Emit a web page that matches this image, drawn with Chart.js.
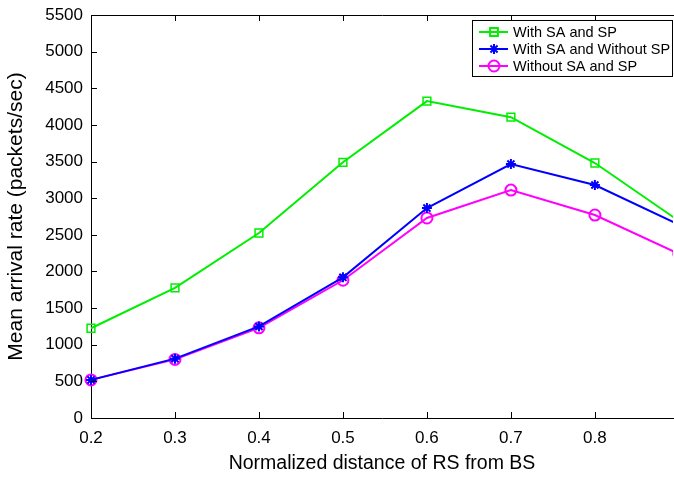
<!DOCTYPE html>
<html>
<head>
<meta charset="utf-8">
<script src="https://cdn.jsdelivr.net/npm/chart.js@4/dist/chart.umd.min.js"></script>
<style>
  html, body { margin: 0; padding: 0; background: #fff; }
  #wrap { width: 674px; height: 479px; }
</style>
</head>
<body>
<div id="wrap"><canvas id="arrivalChart" width="674" height="479"></canvas></div>
<script>
// Data
var distances = [0.2, 0.3, 0.4, 0.5, 0.6, 0.7, 0.8, 0.9];
var withSaSp = [1225, 1775, 2525, 3490, 4325, 4105, 3480, 2690];
var withSaNoSp = [520, 810, 1250, 1920, 2865, 3465, 3180, 2640];
var withoutSaSp = [520, 800, 1230, 1880, 2730, 3110, 2770, 2240];
var seriesNames = ['With SA and SP', 'With SA and Without SP', 'Without SA and SP'];
var xTicks = [0.2, 0.3, 0.4, 0.5, 0.6, 0.7, 0.8];

function toPoints(ys) {
    return distances.map(function (x, i) { return { x: x, y: ys[i] }; });
}

var fontFamily = '"Liberation Sans", Arial, sans-serif';

// Draws MATLAB style inward ticks, the top border and the legend box
var matlabFrame = {
    id: 'matlabFrame',
    afterDraw: function (chart) {
        var ctx = chart.ctx;
        var area = chart.chartArea;
        var xs = chart.scales.x;
        var ys = chart.scales.y;
        ctx.save();
        ctx.strokeStyle = '#000';
        ctx.lineWidth = 1;
        ctx.beginPath();
        ctx.moveTo(area.left, area.top + 0.5);
        ctx.lineTo(674, area.top + 0.5);
        xTicks.forEach(function (v) {
            var px = Math.round(xs.getPixelForValue(v)) + 0.5;
            ctx.moveTo(px, area.bottom);
            ctx.lineTo(px, area.bottom - 6);
            ctx.moveTo(px, area.top);
            ctx.lineTo(px, area.top + 6);
        });
        ys.ticks.forEach(function (t) {
            var py = Math.round(ys.getPixelForValue(t.value)) + 0.5;
            ctx.moveTo(area.left, py);
            ctx.lineTo(area.left + 6, py);
        });
        ctx.stroke();

        // legend
        var lx = 472, ly = 20, lw = 200, lh = 56;
        ctx.fillStyle = '#fff';
        ctx.fillRect(lx, ly, lw, lh);
        ctx.strokeRect(lx + 0.5, ly + 0.5, lw, lh);
        ctx.font = '14.5px ' + fontFamily;
        ctx.textBaseline = 'middle';
        chart.data.datasets.forEach(function (ds, i) {
            var cy = ly + 12 + i * 17;
            ctx.strokeStyle = ds.borderColor;
            ctx.lineWidth = 2;
            ctx.beginPath();
            ctx.moveTo(lx + 7, cy);
            ctx.lineTo(lx + 36, cy);
            ctx.stroke();
            ctx.fillStyle = 'rgba(0,0,0,0)';
            Chart.helpers.drawPoint(ctx, {
                pointStyle: ds.pointStyle,
                radius: ds.pointRadius,
                borderWidth: ds.pointBorderWidth
            }, lx + 22, cy);
            ctx.fillStyle = '#000';
            ctx.fillText(ds.label, lx + 41, cy + 1);
        });
        ctx.restore();
    }
};

var ctx = document.getElementById('arrivalChart').getContext('2d');
new Chart(ctx, {
    type: 'line',
    data: {
        datasets: [
            {
                label: seriesNames[0],
                data: toPoints(withSaSp),
                borderColor: '#00ee00',
                backgroundColor: 'rgba(0,0,0,0)',
                borderWidth: 2,
                pointStyle: 'rect',
                pointRadius: 5.5,
                pointBorderWidth: 1.5,
                tension: 0,
                clip: { left: 10, top: 10, right: 0, bottom: 10 }
            },
            {
                label: seriesNames[1],
                data: toPoints(withSaNoSp),
                borderColor: '#0000ff',
                backgroundColor: 'rgba(0,0,0,0)',
                borderWidth: 2,
                pointStyle: 'star',
                pointRadius: 5,
                pointBorderWidth: 2,
                tension: 0,
                clip: { left: 10, top: 10, right: 0, bottom: 10 }
            },
            {
                label: seriesNames[2],
                data: toPoints(withoutSaSp),
                borderColor: '#ff00ff',
                backgroundColor: 'rgba(0,0,0,0)',
                borderWidth: 2,
                pointStyle: 'circle',
                pointRadius: 5.5,
                pointBorderWidth: 2,
                tension: 0,
                clip: { left: 10, top: 10, right: 0, bottom: 10 }
            }
        ]
    },
    options: {
        responsive: false,
        animation: false,
        layout: { autoPadding: false, padding: { top: 15, right: 1, left: 0, bottom: 0 } },
        plugins: {
            legend: { display: false },
            tooltip: { enabled: false }
        },
        scales: {
            x: {
                type: 'linear',
                min: 0.2,
                max: 0.893,
                afterBuildTicks: function (scale) {
                    scale.ticks = xTicks.map(function (v) { return { value: v }; });
                },
                afterFit: function (scale) {
                    scale.height = 61;
                    scale.paddingLeft = 0;
                    scale.paddingRight = 0;
                },
                border: { color: '#000', width: 1 },
                grid: { display: false },
                ticks: {
                    color: '#000',
                    padding: 2,
                    font: { family: fontFamily, size: 17 },
                    callback: function (v) { return v.toFixed(1); }
                },
                title: {
                    display: true,
                    text: 'Normalized distance of RS from BS',
                    color: '#000',
                    font: { family: fontFamily, size: 19.5 },
                    padding: { top: 6 }
                }
            },
            y: {
                min: 0,
                max: 5500,
                afterFit: function (scale) {
                    scale.width = 91;
                    scale.paddingTop = 0;
                    scale.paddingBottom = 0;
                },
                border: { color: '#000', width: 1 },
                grid: { display: false },
                ticks: {
                    stepSize: 500,
                    color: '#000',
                    padding: 0,
                    font: { family: fontFamily, size: 17 },
                    callback: function (v) { return String(v); }
                },
                title: {
                    display: true,
                    text: 'Mean arrival rate (packets/sec)',
                    color: '#000',
                    font: { family: fontFamily, size: 21 },
                    padding: { bottom: 1 }
                }
            }
        }
    },
    plugins: [matlabFrame]
});
</script>
</body>
</html>
